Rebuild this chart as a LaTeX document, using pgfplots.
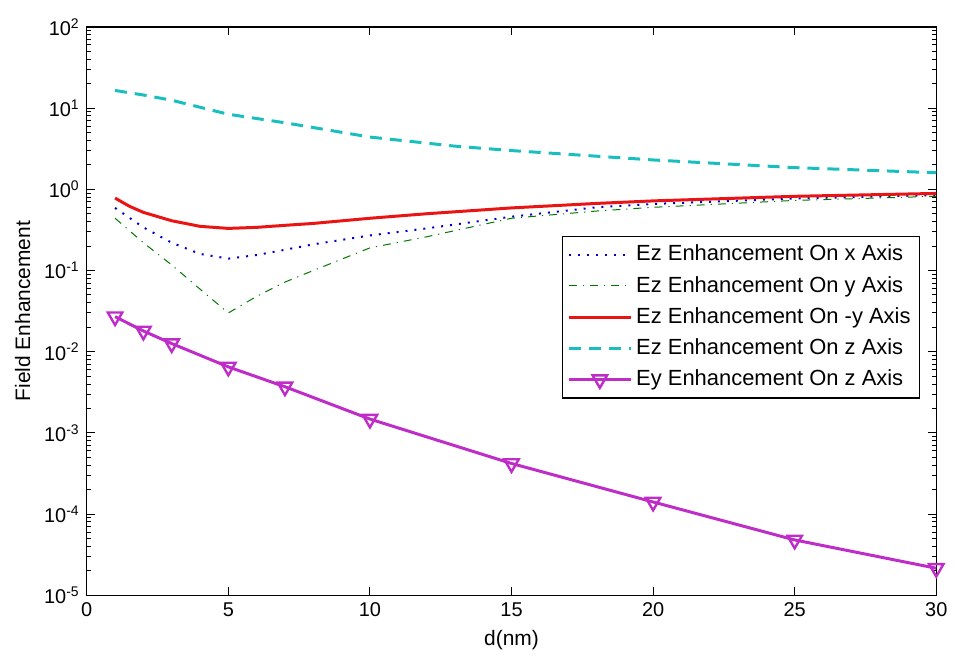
\documentclass[border=0pt]{standalone}
\usepackage{fontspec}
\setmainfont{Liberation Sans}
\usepackage{pgfplots}
\pgfplotsset{compat=1.18}
\definecolor{mblue}{RGB}{0,0,200}
\definecolor{mgreen}{RGB}{0,120,0}
\definecolor{mred}{RGB}{235,20,20}
\definecolor{mcyan}{RGB}{25,190,190}
\definecolor{mmag}{RGB}{190,45,200}

\begin{document}
\fontsize{10}{12}\selectfont
\begin{tikzpicture}
\begin{axis}[
  scale only axis, width=426pt, height=285pt,
  ymode=log, xmin=0, xmax=30, ymin=1e-5, ymax=1e2,
  xtick={0,5,...,30},
  ytick={1e-5,1e-4,1e-3,1e-2,1e-1,1,10,100},
  yticklabels={10\textsuperscript{-5},10\textsuperscript{-4},10\textsuperscript{-3},10\textsuperscript{-2},10\textsuperscript{-1},10\textsuperscript{0},10\textsuperscript{1},10\textsuperscript{2}},
  /pgf/number format/assume math mode=true,
  tick align=inside, major tick length=4pt, minor tick length=2pt,
  tick style={black, line width=0.5pt},
  axis line style={line width=0.6pt},
  xlabel={d(nm)}, ylabel={Field Enhancement},
  label style={font=\fontsize{10.5}{12}\selectfont},
  ticklabel style={font=\fontsize{10}{12}\selectfont},
  legend style={at={(rel axis cs:0.981,0.633)}, anchor=north east,
    font=\fontsize{11}{13}\selectfont, draw=black, line width=0.6pt,
    row sep=2.2pt, inner sep=2.5pt, cells={anchor=west}},
  legend cell align=left,
  legend image code/.code={\draw[mark repeat=2,mark phase=2,#1] plot coordinates {(0pt,0pt) (15.5pt,0pt) (31pt,0pt)};},
]
\addplot[mblue, line width=1pt, dash pattern=on 1pt off 3.5pt] coordinates {
  (1,0.59)(2,0.34)(3,0.22)(4,0.16)(5,0.14)(6,0.155)(7,0.18)(8,0.21)(10,0.27)
  (12,0.33)(15,0.46)(18,0.60)(20,0.66)(25,0.77)(30,0.85)};
\addlegendentry{Ez Enhancement On x Axis}
\addplot[mgreen, line width=0.5pt, dash pattern=on 4pt off 3pt on 0.6pt off 3pt] coordinates {
  (1,0.44)(2,0.22)(3,0.117)(4,0.059)(5,0.030)(6,0.048)(7,0.072)(8,0.10)(10,0.19)
  (12,0.26)(15,0.44)(18,0.54)(20,0.60)(25,0.73)(30,0.82)};
\addlegendentry{Ez Enhancement On y Axis}
\addplot[mred, line width=1.5pt] coordinates {
  (1,0.78)(1.5,0.62)(2,0.52)(3,0.41)(4,0.35)(5,0.33)(6,0.34)(7,0.36)(8,0.38)
  (10,0.44)(12,0.50)(15,0.59)(18,0.67)(20,0.72)(25,0.82)(30,0.89)};
\addlegendentry{Ez Enhancement On -y Axis}
\addplot[mcyan, line width=1.5pt, dash pattern=on 6pt off 4pt] coordinates {
  (1,16.5)(2,14.5)(3,12.5)(5,8.4)(7,6.6)(10,4.4)(13,3.4)(15,3.0)(20,2.3)(25,1.85)(30,1.6)};
\addlegendentry{Ez Enhancement On z Axis}
\addplot[mmag, line width=1.5pt, mark=triangle, mark size=4.2pt,
  mark options={rotate=180, solid, line width=1.2pt}] coordinates {
  (1,0.027)(2,0.018)(3,0.0126)(5,0.0065)(7,0.0037)(10,0.00148)(15,0.00042)
  (20,0.000141)(25,4.8e-5)(30,2.15e-5)};
\addlegendentry{Ey Enhancement On z Axis}
\end{axis}
\path (current axis.south west) ++(-43.5pt,-31.5pt) (current axis.north east) ++(7.5pt,13.5pt);
\end{tikzpicture}
\end{document}
